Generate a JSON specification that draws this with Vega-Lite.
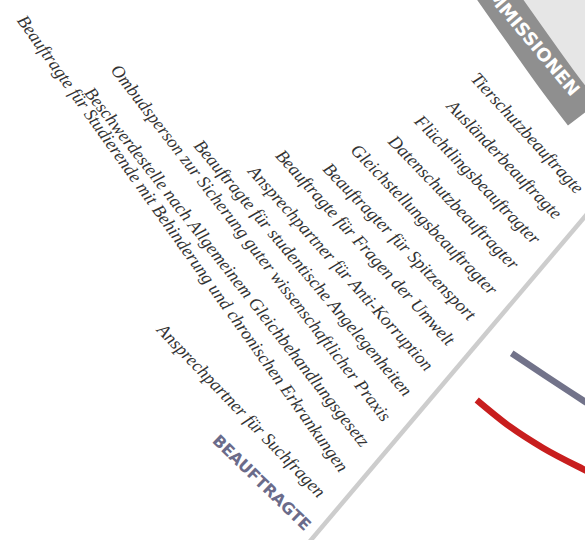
{
  "$schema": "https://vega.github.io/schema/vega-lite/v6.json",
  "width": 585,
  "height": 540,
  "padding": 0,
  "autosize": {"type": "none"},
  "background": "white",
  "config": {"view": {"stroke": null}},
  "datasets": {
    "labels": [
      {"rank": 0, "label": "Tierschutzbeauftragte", "kind": "item"},
      {"rank": 1, "label": "Ausländerbeauftragte", "kind": "item"},
      {"rank": 2, "label": "Flüchtlingsbeauftragter", "kind": "item"},
      {"rank": 3, "label": "Datenschutzbeauftragter", "kind": "item"},
      {"rank": 4, "label": "Gleichstellungsbeauftragter", "kind": "item"},
      {"rank": 5, "label": "Beauftragter für Spitzensport", "kind": "item"},
      {"rank": 6, "label": "Beauftragte für Fragen der Umwelt", "kind": "item"},
      {"rank": 7, "label": "Ansprechpartner für Anti-Korruption", "kind": "item"},
      {"rank": 8, "label": "Beauftragte für studentische Angelegenheiten", "kind": "item"},
      {"rank": 9, "label": "Ombudsperson zur Sicherung guter wissenschaftlicher Praxis", "kind": "item"},
      {"rank": 10, "label": "Beschwerdestelle nach Allgemeinem Gleichbehandlungsgesetz", "kind": "item"},
      {"rank": 11, "label": "Beauftragte für Studierende mit Behinderung und chronischen Erkrankungen", "kind": "item"},
      {"rank": 12, "label": "Ansprechpartner für Suchfragen", "kind": "item"},
      {"rank": 13, "label": "BEAUFTRAGTE", "kind": "heading"}
    ],
    "shapes": [
      {"shape": "inner", "order": 0, "px": 93.16, "py": -14.63},
      {"shape": "inner", "order": 1, "px": 95.21, "py": -11.3},
      {"shape": "inner", "order": 2, "px": 98.8, "py": -5.74},
      {"shape": "inner", "order": 3, "px": 102.56, "py": 0.0},
      {"shape": "inner", "order": 4, "px": 106.5, "py": 5.93},
      {"shape": "inner", "order": 5, "px": 110.77, "py": 12.04},
      {"shape": "band", "order": 0, "px": 82.05, "py": -5.56},
      {"shape": "band", "order": 1, "px": 84.1, "py": -2.22},
      {"shape": "band", "order": 2, "px": 87.69, "py": 3.33},
      {"shape": "band", "order": 3, "px": 91.45, "py": 9.07},
      {"shape": "band", "order": 4, "px": 95.38, "py": 15.0},
      {"shape": "band", "order": 5, "px": 99.66, "py": 21.11},
      {"shape": "divider", "order": 0, "px": 103.25, "py": 35.93},
      {"shape": "divider", "order": 1, "px": 52.14, "py": 101.3},
      {"shape": "blueArc", "order": 0, "px": 87.47, "py": 65.43},
      {"shape": "blueArc", "order": 1, "px": 93.45, "py": 69.75},
      {"shape": "blueArc", "order": 2, "px": 100.0, "py": 74.39},
      {"shape": "blueArc", "order": 3, "px": 101.7, "py": 75.6},
      {"shape": "redArc", "order": 0, "px": 81.49, "py": 74.07},
      {"shape": "redArc", "order": 1, "px": 87.18, "py": 79.02},
      {"shape": "redArc", "order": 2, "px": 92.82, "py": 82.96},
      {"shape": "redArc", "order": 3, "px": 100.0, "py": 87.04},
      {"shape": "redArc", "order": 4, "px": 101.7, "py": 87.96}
    ],
    "headings": [
      {"label": "KOMMISSIONEN", "px": 98.29, "py": 17.4}
    ]
  },
  "layer": [
    {
      "data": {"name": "shapes"},
      "transform": [{"filter": "datum.shape === 'inner'"}],
      "mark": {"type": "line", "stroke": "#e6e6e6", "strokeWidth": 130, "strokeCap": "butt", "interpolate": "natural", "clip": true},
      "encoding": {
        "x": {"field": "px", "type": "quantitative", "scale": {"domain": [0, 100], "nice": false, "zero": false}, "axis": null},
        "y": {"field": "py", "type": "quantitative", "scale": {"domain": [0, 100], "reverse": true, "nice": false, "zero": false}, "axis": null},
        "order": {"field": "order"}
      }
    },
    {
      "data": {"name": "shapes"},
      "transform": [{"filter": "datum.shape === 'band'"}],
      "mark": {"type": "line", "stroke": "#8f8f8f", "strokeWidth": 38, "strokeCap": "butt", "interpolate": "natural", "clip": true},
      "encoding": {
        "x": {"field": "px", "type": "quantitative", "scale": {"domain": [0, 100], "nice": false, "zero": false}, "axis": null},
        "y": {"field": "py", "type": "quantitative", "scale": {"domain": [0, 100], "reverse": true, "nice": false, "zero": false}, "axis": null},
        "order": {"field": "order"}
      }
    },
    {
      "data": {"name": "shapes"},
      "transform": [{"filter": "datum.shape === 'divider'"}],
      "mark": {"type": "line", "stroke": "#cdcdcd", "strokeWidth": 4.5, "strokeCap": "butt", "clip": true},
      "encoding": {
        "x": {"field": "px", "type": "quantitative", "scale": {"domain": [0, 100], "nice": false, "zero": false}, "axis": null},
        "y": {"field": "py", "type": "quantitative", "scale": {"domain": [0, 100], "reverse": true, "nice": false, "zero": false}, "axis": null},
        "order": {"field": "order"}
      }
    },
    {
      "data": {"name": "shapes"},
      "transform": [{"filter": "datum.shape === 'blueArc'"}],
      "mark": {"type": "line", "stroke": "#72738a", "strokeWidth": 6.5, "strokeCap": "butt", "interpolate": "monotone", "clip": true},
      "encoding": {
        "x": {"field": "px", "type": "quantitative", "scale": {"domain": [0, 100], "nice": false, "zero": false}, "axis": null},
        "y": {"field": "py", "type": "quantitative", "scale": {"domain": [0, 100], "reverse": true, "nice": false, "zero": false}, "axis": null},
        "order": {"field": "order"}
      }
    },
    {
      "data": {"name": "shapes"},
      "transform": [{"filter": "datum.shape === 'redArc'"}],
      "mark": {"type": "line", "stroke": "#c81e1e", "strokeWidth": 6.5, "strokeCap": "butt", "interpolate": "monotone", "clip": true},
      "encoding": {
        "x": {"field": "px", "type": "quantitative", "scale": {"domain": [0, 100], "nice": false, "zero": false}, "axis": null},
        "y": {"field": "py", "type": "quantitative", "scale": {"domain": [0, 100], "reverse": true, "nice": false, "zero": false}, "axis": null},
        "order": {"field": "order"}
      }
    },
    {
      "data": {"name": "headings"},
      "mark": {"type": "text", "font": "DejaVu Sans", "fontWeight": "bold", "fontSize": 18, "fill": "#ffffff", "angle": 50, "align": "right", "baseline": "middle"},
      "encoding": {
        "x": {"field": "px", "type": "quantitative", "scale": {"domain": [0, 100], "nice": false, "zero": false}, "axis": null},
        "y": {"field": "py", "type": "quantitative", "scale": {"domain": [0, 100], "reverse": true, "nice": false, "zero": false}, "axis": null},
        "text": {"field": "label"}
      }
    },
    {
      "data": {"name": "labels"},
      "transform": [{"filter": "datum.kind === 'item'"}],
      "mark": {"type": "text", "font": "Liberation Serif", "fontStyle": "italic", "fontSize": 18, "fill": "#333333", "align": "right", "baseline": "alphabetic"},
      "encoding": {
        "x": {"field": "rank", "type": "quantitative", "scale": {"domain": [-0.4186, 26.791], "reverse": true, "nice": false, "zero": false}, "axis": null},
        "y": {"field": "rank", "type": "quantitative", "scale": {"domain": [-7.708, 13.636], "reverse": true, "nice": false, "zero": false}, "axis": null},
        "angle": {"field": "rank", "type": "ordinal", "legend": null, "scale": {"type": "ordinal", "domain": [0, 1, 2, 3, 4, 5, 6, 7, 8, 9, 10, 11, 12], "range": [47.5, 46.2, 46, 46, 46, 46, 47.9, 48.3, 50, 52.3, 52, 54.5, 46]}},
        "text": {"field": "label"}
      }
    },
    {
      "data": {"name": "labels"},
      "transform": [{"filter": "datum.kind === 'heading'"}],
      "mark": {"type": "text", "font": "DejaVu Sans", "fontWeight": "bold", "fontSize": 16, "fill": "#6b6b8a", "angle": 44, "align": "right", "baseline": "alphabetic", "dx": 11},
      "encoding": {
        "x": {"field": "rank", "type": "quantitative", "scale": {"domain": [-0.4186, 26.791], "reverse": true, "nice": false, "zero": false}, "axis": null},
        "y": {"field": "rank", "type": "quantitative", "scale": {"domain": [-7.708, 13.636], "reverse": true, "nice": false, "zero": false}, "axis": null},
        "text": {"field": "label"}
      }
    }
  ],
  "resolve": {"scale": {"x": "independent", "y": "independent", "angle": "independent"}}
}
